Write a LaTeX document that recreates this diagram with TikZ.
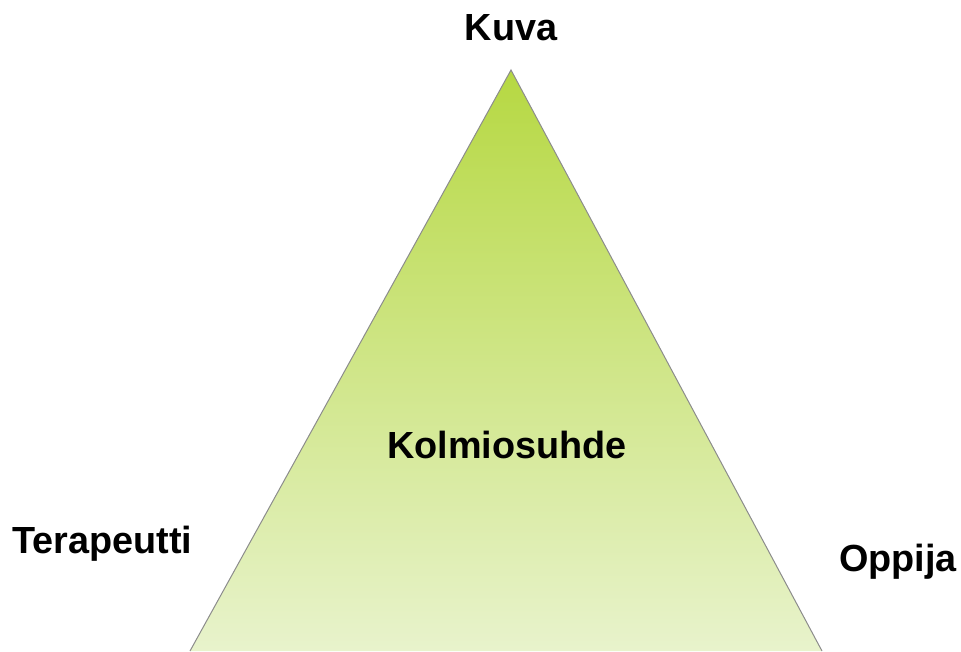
\documentclass[tikz,border=0pt]{standalone}
\usepackage{fontspec}
\setmainfont{Liberation Sans}
\begin{document}
\begin{tikzpicture}[x=1pt,y=-1pt,
  label/.style={font=\bfseries\fontsize{37.8}{42}\selectfont, inner sep=0pt, text=black},
  edge/.style={draw=black!45, line width=1pt}]
\useasboundingbox (0,0) rectangle (961,651);
% corners of the triangle (base runs below the visible area)
\coordinate (apex) at (511,70);
\coordinate (bl) at (190,651);
\coordinate (br) at (822,651);
\shade[top color={rgb,255:red,182;green,216;blue,66}, bottom color={rgb,255:red,232;green,243;blue,204}]
  (apex) -- (br) -- (bl) -- cycle;
\draw[edge] (bl) -- (apex) -- (br);
\node[label, anchor=base] (kuva) at (511,40) {Kuva};
\node[label, anchor=base] (kolmio) at (507,458) {Kolmiosuhde};
\node[label, anchor=base west] (terapeutti) at (12,553) {Terapeutti};
\node[label, anchor=base east] (oppija) at (957,571) {Oppija};
\end{tikzpicture}
\end{document}
